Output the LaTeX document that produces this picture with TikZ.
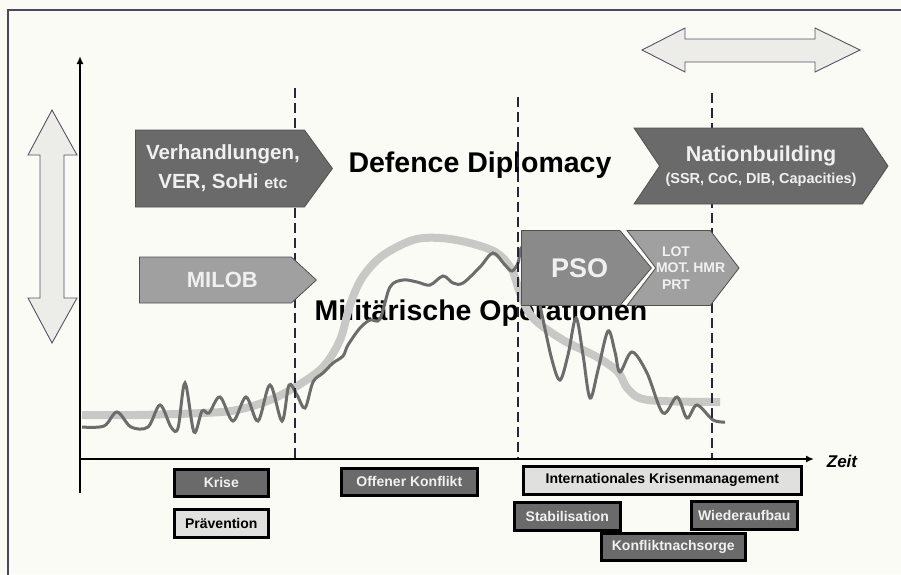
\documentclass[tikz,border=0pt]{standalone}
\usepackage{fontspec}
\setmainfont{Liberation Sans}
\usepackage{xcolor}
\usetikzlibrary{arrows.meta,positioning,shapes.symbols}

\definecolor{paper}{HTML}{FBFBF6}
\definecolor{framecol}{HTML}{4E465E}
\definecolor{dashcol}{HTML}{2E2438}
\definecolor{darkfill}{HTML}{6A6A6A}
\definecolor{midfill}{HTML}{8A8A8A}
\definecolor{lightfill}{HTML}{A0A0A0}
\definecolor{palefill}{HTML}{E0E0DE}
\definecolor{rimcol}{HTML}{505050}
\definecolor{trendcol}{HTML}{C8C8C6}
\definecolor{wavecol}{HTML}{6C6C6C}
\definecolor{textlight}{HTML}{F0F0F0}
\definecolor{arrowfill}{HTML}{ECECE8}
\definecolor{arrowrim}{HTML}{5A5066}

\begin{document}
\begin{tikzpicture}[x=1pt, y=-1pt,
  phase/.style={signal, draw=rimcol, line width=0.8pt, text=textlight,
    align=center, inner sep=0pt},
  tagbox/.style={draw=black, line width=2.6pt, fill=darkfill, text=textlight,
    inner sep=0pt, anchor=north west, font=\bfseries\fontsize{14}{16}\selectfont},
  pale/.style={fill=palefill, text=black},
  bigtitle/.style={font=\bfseries\fontsize{28.5}{32}\selectfont, anchor=base},
  axis/.style={line width=2.2pt, -{Latex[length=8pt,width=7pt]}},
  marker/.style={dash pattern=on 10pt off 5pt, line width=1.6pt, draw=dashcol}
]
% page
\fill[paper] (0,0) rectangle (901,574);
\useasboundingbox (0,0) rectangle (901,574);
\draw[framecol, line width=1.3pt] (8,580) -- (8,10) -- (905,10);

% titles
\node[bigtitle] (defdip) at (480,172) {Defence Diplomacy};
\node[bigtitle] (milop) at (481,320) {Militärische Operationen};

% curves
\draw[trendcol, line width=8pt] plot[smooth, tension=0.55] coordinates {
  (82,415) (137,415) (203,413) (237,410) (270,400) (297,386) (323,367)
  (340,340) (350,305) (362,278) (382,256) (413,240) (440,238) (470,243)
  (497,253) (512,270) (520,293) (533,318) (563,340) (597,357) (618,372)
  (628,389) (648,400) (720,402)};
\draw[wavecol, line width=3pt] plot[smooth, tension=0.55] coordinates {
  (82,427) (104,426) (117,412) (131,427) (148,427) (160,405) (171,427)
  (178,428) (185,383) (194,432) (202,411) (209,413) (220,397) (233,421)
  (246,397) (258,421) (270,385) (282,421) (289,385) (297,395) (305,408)
  (313,382) (323,373) (333,363) (343,356) (348,345) (360,328) (370,320)
  (380,319) (390,287) (403,280) (417,282) (430,285) (443,276) (453,283)
  (463,283) (480,267) (493,253) (505,265) (512,271) (518,263) (522,248)
  (533,275) (542,315) (552,360) (560,380) (568,355) (576,318) (583,355)
  (590,398) (598,370) (608,331) (615,352) (620,372) (632,352) (647,373)
  (663,413) (677,397) (687,418) (697,405) (713,420) (725,422)};

% phase markers
\coordinate (m1top) at (295,88);  \coordinate (m1bot) at (295,459);
\coordinate (m2top) at (518,97);  \coordinate (m2bot) at (518,459);
\coordinate (m3top) at (712,93);  \coordinate (m3bot) at (712,459);
\draw[marker] (m1top) -- (m1bot);
\draw[marker] (m2top) -- (m2bot);
\draw[marker] (m3top) -- (m3bot);

% axes
\coordinate (origin) at (80,459);
\coordinate (ytop) at (80,56);
\coordinate (ybot) at (80,493);
\coordinate (xend) at (814,459);
\draw[axis] (ybot) -- (ytop);
\draw[axis] (origin) -- (xend);
\node[font=\bfseries\itshape\fontsize{17}{20}\selectfont, anchor=base] (zeit) at (842,467) {Zeit};

% phase arrows
\node[phase, fill=darkfill, signal to=east, signal pointer angle=108,
  minimum width=197, minimum height=77, anchor=west,
  font=\bfseries\fontsize{20.5}{29}\selectfont] (verh) at (135,168.5)
  {\hspace*{6pt}Verhandlungen,\\\hspace*{6pt}VER, SoHi {\fontsize{16}{20}\selectfont etc}};
\node[phase, fill=lightfill, signal to=east, signal pointer angle=85,
  minimum width=177, minimum height=46, anchor=west,
  font=\bfseries\fontsize{22}{24}\selectfont] (milob) at (139,280)
  {\hspace*{14pt}MILOB};
\node[phase, fill=darkfill, signal from=west, signal to=east, signal pointer angle=112,
  minimum width=254, minimum height=76,
  font=\bfseries\fontsize{21.5}{22}\selectfont] (nation) at (761,166)
  {Nationbuilding\\{\fontsize{14.5}{17}\selectfont (SSR, CoC, DIB, Capacities)}};
\node[phase, fill=midfill, signal to=east, signal pointer angle=100,
  minimum width=130, minimum height=75, anchor=west,
  font=\bfseries\fontsize{27}{30}\selectfont] (pso) at (521,268)
  {\hspace*{18pt}PSO};
\node[phase, fill=lightfill, signal from=west, signal to=east, signal pointer angle=105,
  minimum width=112, minimum height=75,
  font=\bfseries\fontsize{14}{16.5}\selectfont] (lot) at (683,268)
  {\makebox[54pt][l]{\hspace*{6pt}LOT}\\\makebox[54pt][l]{MOT. HMR}\\\makebox[54pt][l]{\hspace*{6pt}PRT}};

% scale arrows
\draw[arrowrim, fill=arrowfill, line width=0.9pt]
  (52,110) -- (77,155) -- (64,155) -- (64,298) -- (77,298) -- (52,343)
  -- (28,298) -- (40,298) -- (40,155) -- (28,155) -- cycle;
\draw[arrowrim, fill=arrowfill, line width=0.9pt]
  (642,50) -- (685,28) -- (685,39) -- (815,39) -- (815,28) -- (860,50)
  -- (815,72) -- (815,62) -- (685,62) -- (685,72) -- cycle;

% phase tags
\node[tagbox, minimum width=94, minimum height=27] (krise) at (173,468) {Krise};
\node[tagbox, pale, minimum width=94, minimum height=28] (praev) at (173,508) {Prävention};
\node[tagbox, minimum width=136, minimum height=27] (offen) at (340,467) {Offener Konflikt};
\node[tagbox, pale, minimum width=278, minimum height=28] (ikm) at (522,465) {Internationales Krisenmanagement};
\node[tagbox, minimum width=106, minimum height=28] (stab) at (513,501) {Stabilisation};
\node[tagbox, minimum width=106, minimum height=28] (wieder) at (690,500) {Wiederaufbau};
\node[tagbox, minimum width=144, minimum height=27] (nach) at (600,532) {Konfliktnachsorge};
\end{tikzpicture}
\end{document}
